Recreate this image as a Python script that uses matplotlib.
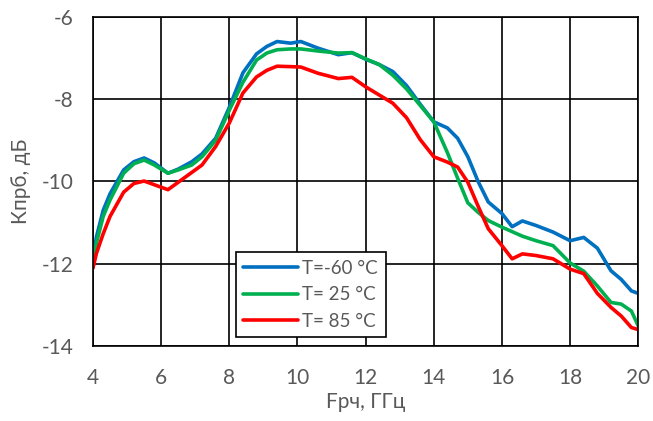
import matplotlib
matplotlib.use('Agg')
import matplotlib.pyplot as plt

# frequency grid, GHz
freq = [4.0, 4.1, 4.3, 4.5, 4.9, 5.2, 5.5, 5.8, 6.2, 6.5, 6.9, 7.2, 7.6, 8.0, 8.4,
        8.8, 9.1, 9.4, 9.8, 10.1, 10.6, 11.2, 11.6, 12.0, 12.4, 12.8, 13.2, 13.6,
        14.0, 14.4, 14.7, 15.0, 15.3, 15.6, 16.0, 16.3, 16.6, 17.0, 17.5, 18.0,
        18.4, 18.8, 19.2, 19.5, 19.8, 20.0]

# gain, dB
k_m60 = [-11.9, -11.35, -10.7, -10.3, -9.72, -9.52, -9.43, -9.55, -9.8, -9.7, -9.52,
         -9.33, -8.95, -8.2, -7.36, -6.9, -6.72, -6.6, -6.64, -6.6, -6.76, -6.92,
         -6.87, -7.03, -7.16, -7.33, -7.67, -8.12, -8.55, -8.7, -8.95, -9.4, -10.0,
         -10.5, -10.78, -11.1, -10.96, -11.07, -11.23, -11.44, -11.36, -11.62,
         -12.17, -12.38, -12.66, -12.72]
k_25 = [-12.1, -11.5, -10.85, -10.45, -9.8, -9.57, -9.48, -9.6, -9.8, -9.72, -9.6,
        -9.4, -9.0, -8.27, -7.59, -7.05, -6.88, -6.8, -6.78, -6.78, -6.83, -6.88,
        -6.87, -7.02, -7.16, -7.42, -7.75, -8.15, -8.55, -9.3, -9.92, -10.52,
        -10.75, -10.95, -11.11, -11.22, -11.33, -11.44, -11.56, -11.98, -12.18,
        -12.54, -12.94, -12.98, -13.15, -13.51]
k_85 = [-12.1, -11.75, -11.27, -10.85, -10.26, -10.05, -9.99, -10.08, -10.2, -10.02,
        -9.78, -9.6, -9.15, -8.58, -7.85, -7.46, -7.3, -7.2, -7.21, -7.22, -7.37,
        -7.5, -7.47, -7.7, -7.9, -8.1, -8.45, -8.98, -9.4, -9.53, -9.65, -10.02,
        -10.6, -11.15, -11.56, -11.88, -11.76, -11.8, -11.88, -12.13, -12.24,
        -12.72, -13.06, -13.27, -13.55, -13.6]

labels = ['T=-60 \u00b0C', 'T= 25 \u00b0C', 'T= 85 \u00b0C']
colors = ['#0070C0', '#00B050', '#FF0000']

plt.rcParams['font.family'] = ['Lato', 'DejaVu Sans']
plt.rcParams['axes.unicode_minus'] = False

fig = plt.figure(figsize=(6.53, 4.21), dpi=100)
ax = fig.add_axes([0.1424, 0.178, 0.835, 0.782])

for ys, lab, c in zip([k_m60, k_25, k_85], labels, colors):
    ax.plot(freq, ys, color=c, lw=2.6, label=lab, solid_capstyle='round')

ax.set_xlim(4, 20)
ax.set_ylim(-14, -6)
ax.set_xticks(range(4, 21, 2))
ax.set_yticks(range(-14, -5, 2))
ax.grid(True, color='black', lw=1.2)
ax.set_axisbelow(True)
for s in ax.spines.values():
    s.set_color('black')
    s.set_linewidth(1.2)
ax.tick_params(length=0, labelsize=15, labelcolor='#595959')
ax.tick_params(axis='x', pad=16)
ax.tick_params(axis='y', pad=14)
ax.set_xlabel('Fрч, ГГц', fontsize=15, color='#595959', labelpad=3)
ax.set_ylabel('Кпрб, дБ', fontsize=15, color='#595959', labelpad=8)

leg = ax.legend(loc='lower left', bbox_to_anchor=(0.262, 0.027), fontsize=13.5,
                frameon=True, fancybox=False, edgecolor='black', framealpha=1,
                handlelength=2.9, handletextpad=0.25, borderpad=0.4,
                labelspacing=0.5, borderaxespad=0)
leg.get_frame().set_linewidth(1.2)
for t in leg.get_texts():
    t.set_color('#595959')

fig.savefig('out.png', dpi=100)
